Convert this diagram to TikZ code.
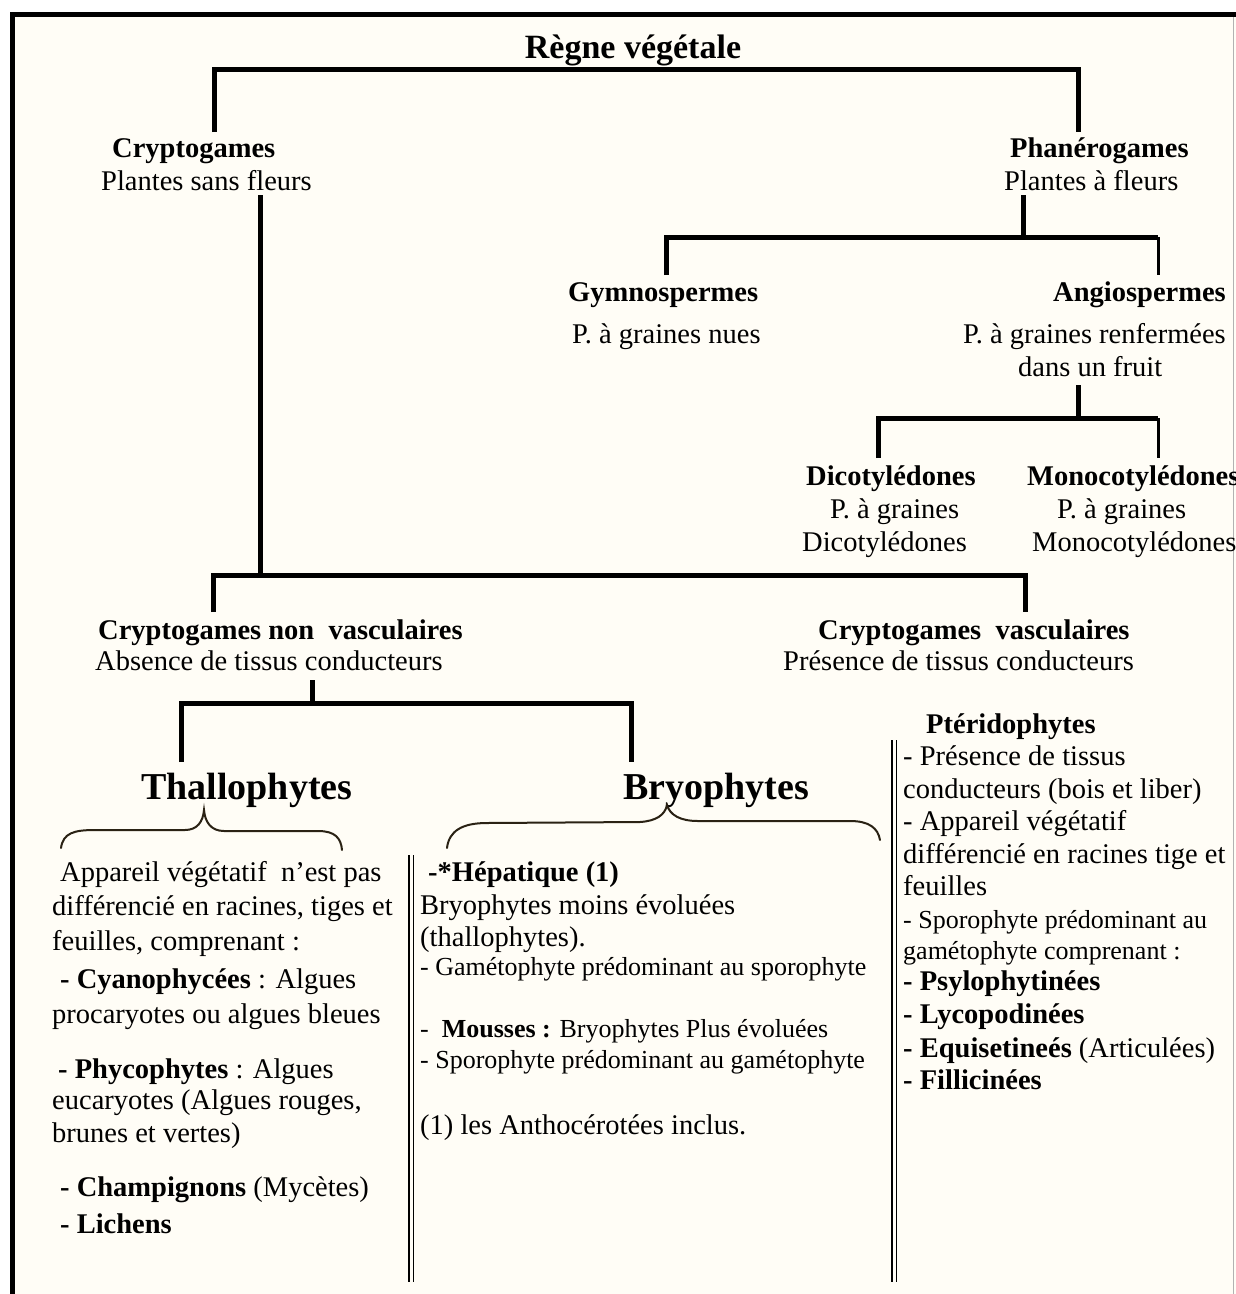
\documentclass[tikz,border=0pt]{standalone}
\usepackage{fontspec}
\setmainfont{Liberation Serif}
\definecolor{paper}{HTML}{FFFDF6}
\definecolor{brace}{HTML}{2A2214}
\begin{document}
\begin{tikzpicture}[x=1pt,y=-1pt,
  trunk/.style={line width=5pt,line join=miter},
  twig/.style={line width=3pt},
  rule/.style={line width=1.4pt},
  curly/.style={line width=2pt,draw=brace,line cap=round},
  lbl/.style={inner sep=0pt,anchor=base west,font=\fontsize{28.5}{33}\selectfont},
  lblc/.style={lbl,anchor=base},
  lble/.style={lbl,anchor=base east},
  head/.style={lbl,font=\fontsize{28.5}{33}\selectfont\bfseries},
  headc/.style={head,anchor=base},
  heade/.style={head,anchor=base east},
  big/.style={lbl,font=\fontsize{38}{44}\selectfont\bfseries},
  small/.style={lbl,font=\fontsize{26}{30}\selectfont}]

% page and frame
\fill[white] (0,0) rectangle (1236,1294);
\fill[paper] (12,14) rectangle (1236,1294);
\useasboundingbox (0,0) rectangle (1236,1294);
\draw[gray!60,line width=1pt] (1233,17) -- (1233,1294);
\draw[line width=5pt] (12,1294) -- (12,14.5) -- (1236,14.5);

% ---------- titles of the tree ----------
\node[headc,font=\fontsize{34}{40}\selectfont\bfseries] (regne) at (633,58) {Règne végétale};
\node[head] (crypto) at (112,157) {Cryptogames};
\node[lbl]  (cryptoS) at (101,190) {Plantes sans fleurs};
\node[head] (phanero) at (1010,157) {Phanérogames};
\node[lbl]  (phaneroS) at (1004,190) {Plantes à fleurs};

\node[head] (gymno) at (568,301) {Gymnospermes};
\node[lbl]  (gymnoS) at (572,343) {P. à graines nues};
\node[heade] (angio) at (1226,301) {Angiospermes};
\node[lble] (angioS) at (1226,343) {P. à graines renfermées};
\node[lbl]  (angioT) at (1018,376) {dans un fruit};

\node[head] (dico) at (806,485) {Dicotylédones};
\node[lbl]  (dicoS) at (830,518) {P. à graines};
\node[lbl]  (dicoT) at (802,551) {Dicotylédones};
\node[head] (mono) at (1027,485) {Monocotylédones};
\node[lbl]  (monoS) at (1057,518) {P. à graines};
\node[lbl]  (monoT) at (1032,551) {Monocotylédones};

\node[head] (nonvasc) at (98,639) {Cryptogames non\ \ vasculaires};
\node[lbl]  (nonvascS) at (95,670) {Absence de tissus conducteurs};
\node[head] (vasc) at (818,639) {Cryptogames\ \ vasculaires};
\node[lbl]  (vascS) at (783,670) {Présence de tissus conducteurs};

\node[big] (thallo) at (141,799) {Thallophytes};
\node[big] (bryo) at (623,799) {Bryophytes};
\node[head] (pterido) at (926,733) {Ptéridophytes};

% ---------- tree connectors ----------
\coordinate (j0) at (633,69);
\coordinate (toC) at (214,132);
\coordinate (toP) at (1078,132);
\draw[trunk] (toC) |- (j0) -| (toP);

\coordinate (fromP) at (1023,195);
\coordinate (j1) at (1023,237);
\coordinate (toG) at (666,275);
\coordinate (cornA) at (1158,237);
\coordinate (toA) at (1158,275);
\draw[trunk] (fromP) -- (j1);
\draw[trunk] (toG) |- (j1) -- (cornA);
\draw[twig] (cornA) -- (toA);

\coordinate (fromA) at (1078,385);
\coordinate (j2) at (1078,418);
\coordinate (toD) at (878,458);
\coordinate (cornM) at (1158,418);
\coordinate (toM) at (1158,458);
\draw[trunk] (fromA) -- (j2);
\draw[trunk] (toD) |- (j2) -- (cornM);
\draw[twig] (cornM) -- (toM);

\coordinate (fromC) at (260,195);
\coordinate (j3) at (260,575);
\coordinate (toNV) at (213,612);
\coordinate (toV) at (1025,612);
\draw[trunk] (fromC) -- (j3);
\draw[trunk] (toNV) |- (j3) -| (toV);

\coordinate (fromNV) at (312,680);
\coordinate (j4) at (312,703);
\coordinate (toT) at (181,762);
\coordinate (toB) at (631,762);
\draw[trunk] (fromNV) -- (j4);
\draw[trunk] (toT) |- (j4) -| (toB);

% ---------- braces ----------
\draw[curly] (61,848) .. controls (63,833) and (74,830) .. (95,830)
  -- (185,830) .. controls (197,830) and (203,822) .. (204,810)
  .. controls (205,822) and (211,831) .. (224,831)
  -- (318,831) .. controls (335,831) and (341,838) .. (342,850);
\draw[curly] (447,848) .. controls (449,831) and (462,823) .. (487,823)
  -- (640,822) .. controls (656,821) and (665,815) .. (667,805)
  .. controls (670,815) and (680,821) .. (698,821)
  -- (850,821) .. controls (869,821) and (878,828) .. (880,840);

% ---------- column rules ----------
\draw[rule] (409,855) -- (409,1282);
\draw[rule] (413.5,855) -- (413.5,1282);
\draw[rule] (892,740) -- (892,1282);
\draw[rule] (896.5,740) -- (896.5,1282);

% ---------- Thallophytes ----------
\node[lbl] (t1) at (60,881) {Appareil végétatif\ \ n’est pas};
\node[lbl] (t2) at (52,915) {différencié en racines, tiges et};
\node[lbl] (t3) at (52,950) {feuilles, comprenant :};
\node[lbl] (t4) at (60,988) {\textbf{- Cyanophycées} : Algues};
\node[lbl] (t5) at (52,1023) {procaryotes ou algues bleues};
\node[lbl] (t6) at (58,1078) {\textbf{- Phycophytes} : Algues};
\node[lbl] (t7) at (52,1109) {eucaryotes (Algues rouges,};
\node[lbl] (t8) at (52,1142) {brunes et vertes)};
\node[lbl] (t9) at (60,1196) {\textbf{- Champignons} (Mycètes)};
\node[lbl] (t10) at (60,1233) {\textbf{- Lichens}};

% ---------- Bryophytes ----------
\node[head] (b1) at (428,881) {-*Hépatique (1)};
\node[lbl] (b2) at (420,914) {Bryophytes moins évoluées};
\node[lbl] (b3) at (420,946) {(thallophytes).};
\node[small] (b4) at (420,975) {- Gamétophyte prédominant au sporophyte};
\node[small] (b5) at (420,1037) {-\ \ \textbf{Mousses :} Bryophytes Plus évoluées};
\node[small] (b6) at (420,1068) {- Sporophyte prédominant au gamétophyte};
\node[lbl] (b7) at (420,1134) {(1) les Anthocérotées inclus.};

% ---------- Ptéridophytes ----------
\node[lbl] (p1) at (903,765) {- Présence de tissus};
\node[lbl] (p2) at (903,798) {conducteurs (bois et liber)};
\node[lbl] (p3) at (903,830) {- Appareil végétatif};
\node[lbl] (p4) at (903,863) {différencié en racines tige et};
\node[lbl] (p5) at (903,895) {feuilles};
\node[small] (p6) at (903,928) {- Sporophyte prédominant au};
\node[small] (p7) at (903,959) {gamétophyte comprenant :};
\node[head] (p8) at (903,990) {- Psylophytinées};
\node[head] (p9) at (903,1023) {- Lycopodinées};
\node[lbl] (p10) at (903,1057) {\textbf{- Equisetineés} (Articulées)};
\node[head] (p11) at (903,1089) {- Fillicinées};
\end{tikzpicture}
\end{document}
